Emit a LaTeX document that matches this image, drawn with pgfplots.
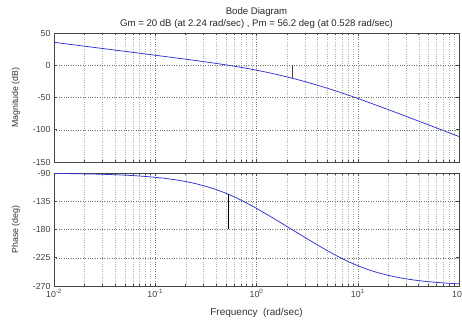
\documentclass[border=0pt]{standalone}
\usepackage{pgfplots}
\pgfplotsset{compat=1.18}
\usepackage{fontspec}
\setmainfont{Liberation Sans}
\definecolor{curve}{RGB}{50,50,205}
\definecolor{axgray}{RGB}{70,70,70}
\pgfplotsset{
  bodeax/.style={
    scale only axis, width=405pt,
    xmin=0.01, xmax=100,
    xtick={0.01,0.1,1,10,100},
    minor xtick={0.02,0.03,0.04,0.05,0.06,0.07,0.08,0.09,0.2,0.3,0.4,0.5,0.6,0.7,0.8,0.9,2,3,4,5,6,7,8,9,20,30,40,50,60,70,80,90},
    tick align=inside, major tick length=3pt, minor tick length=1.8pt,
    grid=both,
    major grid style={dotted, black!55, line width=0.45pt},
    minor grid style={dotted, black!30, line width=0.4pt},
    axis line style={axgray, line width=0.6pt},
    tick style={axgray, line width=0.5pt},
    font=\fontsize{8.5}{10}\selectfont,
    ticklabel style={font=\fontsize{8.8}{10}\selectfont, text=black!75},
    /pgf/number format/assume math mode=true,
    ylabel style={at={(axis description cs:-0.094,0.5)}, anchor=center, rotate=0, text=black!80, font=\fontsize{8.8}{10}\selectfont},
  }
}
\begin{document}
\begin{tikzpicture}
\useasboundingbox (0pt,0pt) rectangle (462pt,323pt);
\begin{axis}[xmode=log, bodeax, at={(54pt,161pt)}, anchor=south west, height=129pt,
  ymin=-150, ymax=50, ytick={-150,-100,-50,0,50},
  xticklabels={},
  ylabel={Magnitude (dB)},
  title={Bode Diagram\\Gm = 20 dB (at 2.24 rad/sec) ,  Pm = 56.2 deg (at 0.528 rad/sec)},
  title style={at={(axis description cs:0.5,1)}, anchor=south, yshift=-5pt, align=center, font=\fontsize{9.6}{11.5}\selectfont, text=black!85},
]
\addplot[curve, line width=0.75pt] coordinates {
(0.01,35.5626) (0.012589,33.5623) (0.015849,31.5619) (0.019953,29.5612) (0.025119,27.5602)
(0.031623,25.5585) (0.039811,23.5558) (0.050119,21.5517) (0.063096,19.5450) (0.079433,17.5346)
(0.1,15.5181) (0.12589,13.4919) (0.15849,11.4508) (0.19953,9.3866) (0.25119,7.2863)
(0.31623,5.1318) (0.39811,2.8966) (0.50119,0.5464) (0.63096,-1.9610) (0.79433,-4.6697)
(1,-7.6176) (1.2589,-10.8285) (1.5849,-14.3083) (1.9953,-18.0520) (2.5119,-22.0534)
(3.1623,-26.3122) (3.9811,-30.8352) (5.0119,-35.6272) (6.3096,-40.6817) (7.9433,-45.9755)
(10,-51.4699) (12.589,-57.1211) (15.849,-62.8870) (19.953,-68.7330) (25.119,-74.6334)
(31.623,-80.5691) (39.811,-86.5283) (50.119,-92.5023) (63.096,-98.4858) (79.433,-104.4754)
(100,-110.4688)
};
\addplot[black!75, line width=0.8pt] coordinates {(2.24,0) (2.24,-20)};
\end{axis}
\begin{axis}[xmode=log, bodeax, at={(54pt,37pt)}, anchor=south west, height=113pt,
  ymin=-270, ymax=-90, ytick={-270,-225,-180,-135,-90},
  xticklabels={10\textsuperscript{-2},10\textsuperscript{-1},10\textsuperscript{0},10\textsuperscript{1},10\textsuperscript{2}},
  ylabel={Phase (deg)},
  xlabel={Frequency\ \ (rad/sec)},
  xlabel style={at={(axis description cs:0.5,0)}, anchor=center, yshift=-27pt, text=black!80, font=\fontsize{10}{11}\selectfont},
]
\addplot[curve, line width=0.75pt] coordinates {
(0.01,-90.6875) (0.012589,-90.8656) (0.015849,-91.0896) (0.019953,-91.3717) (0.025119,-91.7268)
(0.031623,-92.1736) (0.039811,-92.7360) (0.050119,-93.4435) (0.063096,-94.3333) (0.079433,-95.4518)
(0.1,-96.8564) (0.12589,-98.6175) (0.15849,-100.8215) (0.19953,-103.5692) (0.25119,-106.9764)
(0.31623,-111.1673) (0.39811,-116.2604) (0.50119,-122.3437) (0.63096,-129.4426) (0.79433,-137.4881)
(1,-146.3099) (1.2589,-155.6710) (1.5849,-165.3372) (1.9953,-175.1354) (2.5119,-184.9662)
(3.1623,-194.7633) (3.9811,-204.4271) (5.0119,-213.7842) (6.3096,-222.5994) (7.9433,-230.6357)
(10,-237.7244) (12.589,-243.7968) (15.849,-248.8804) (19.953,-253.0628) (25.119,-256.4626)
(31.623,-259.2040) (39.811,-261.4026) (50.119,-263.1598) (63.096,-264.5612) (79.433,-265.6769)
(100,-266.5647)
};
\addplot[black, line width=0.8pt] coordinates {(0.528,-180) (0.528,-123.8)};
\end{axis}
\end{tikzpicture}
\end{document}
